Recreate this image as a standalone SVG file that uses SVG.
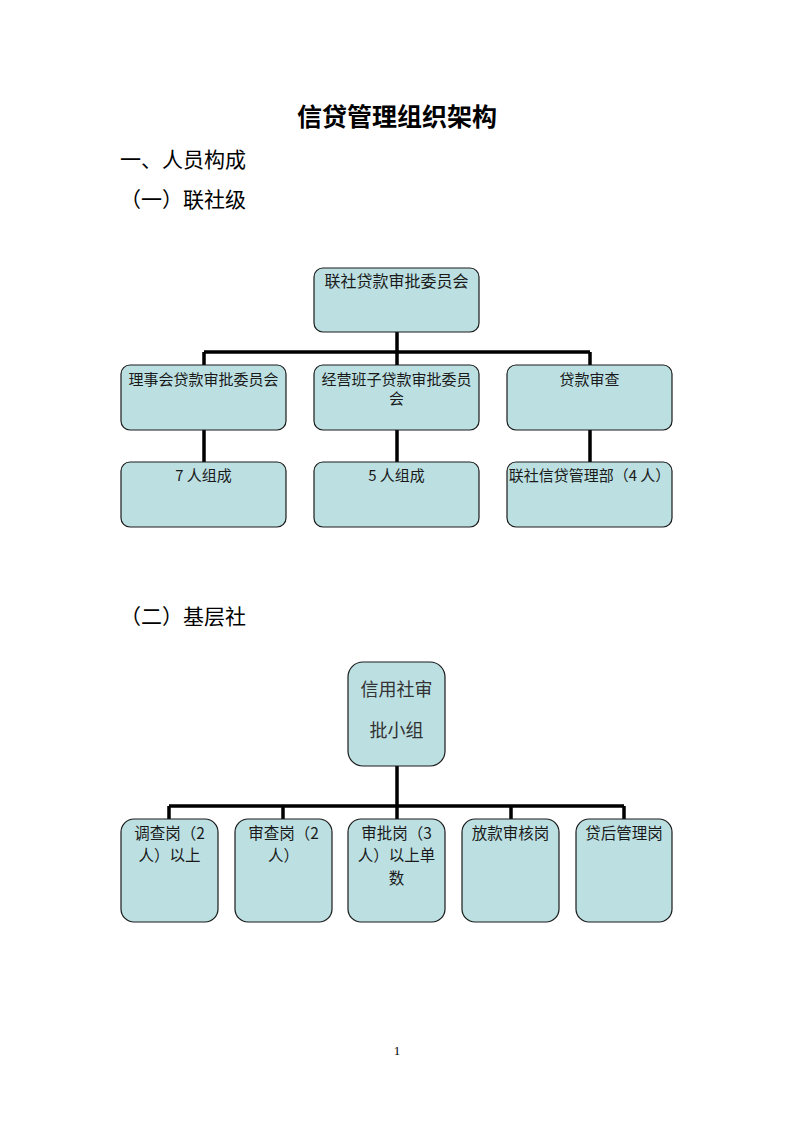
<svg xmlns="http://www.w3.org/2000/svg" width="794" height="1123" viewBox="0 0 794 1123">
<style>
.bg{fill:#ffffff}
.box{fill:#BCE0E2;stroke:#1a1a1a;stroke-width:1.2}
.t{font-family:"Noto Sans CJK SC","Liberation Sans",sans-serif;font-size:15px;fill:#1a1a1a;text-anchor:middle}
.t16{font-family:"Noto Sans CJK SC","Liberation Sans",sans-serif;font-size:16px;fill:#1a1a1a;text-anchor:middle}
.b{font-family:"Noto Sans CJK SC","Liberation Sans",sans-serif;font-size:15.5px;fill:#1a1a1a;text-anchor:middle}
.big{font-family:"Noto Sans CJK SC","Liberation Sans",sans-serif;font-size:18px;fill:#333;text-anchor:middle}
.h{font-family:"Noto Sans CJK SC","Liberation Serif",serif;font-size:21px;fill:#000}
.title{font-family:"Noto Sans CJK SC","Liberation Serif",serif;font-size:25px;font-weight:bold;fill:#000;text-anchor:middle}
.ln{stroke:#000;stroke-width:3.5;fill:none}
</style>
<rect class="bg" x="0" y="0" width="794" height="1123"/>
<text class="title" x="397" y="126">信贷管理组织架构</text>
<text class="h" x="120" y="167">一、人员构成</text>
<text class="h" x="120" y="207">（一）联社级</text>
<text class="h" x="120" y="624">（二）基层社</text>
<text x="397" y="1055" style="font-family:'Liberation Serif',serif;font-size:13px;text-anchor:middle">1</text>

<g id="connectors">
<path class="ln" d="M397 332 V352 M204 352 H590 M204 352 V365 M397 352 V365 M590 352 V365"/>
<path class="ln" d="M204 430 V462 M397 430 V462 M590 430 V462"/>
<path class="ln" d="M397 766 V806 M169 806 H624 M169 806 V819 M283 806 V819 M397 806 V819 M511 806 V819 M624 806 V819"/>
</g>

<g id="n-top"><rect class="box" x="314" y="268" width="165" height="64" rx="9"/><text class="t16" x="396.5" y="287">联社贷款审批委员会</text></g>
<g id="n-lishi"><rect class="box" x="121" y="365" width="165" height="65" rx="9"/><text class="t" x="203.5" y="385">理事会贷款审批委员会</text></g>
<g id="n-jingying"><rect class="box" x="314" y="365" width="165" height="65" rx="9"/><text class="t" x="396.5" y="385">经营班子贷款审批委员</text><text class="t" x="396.5" y="404">会</text></g>
<g id="n-shencha"><rect class="box" x="507" y="365" width="165" height="65" rx="9"/><text class="t" x="589.5" y="385">贷款审查</text></g>
<g id="n-7"><rect class="box" x="121" y="462" width="165" height="65" rx="9"/><text class="t" x="203.5" y="481">7 人组成</text></g>
<g id="n-5"><rect class="box" x="314" y="462" width="165" height="65" rx="9"/><text class="t" x="396.5" y="481">5 人组成</text></g>
<g id="n-4"><rect class="box" x="507" y="462" width="165" height="65" rx="9"/><text class="t" x="589.5" y="481">联社信贷管理部（4 人）</text></g>

<g id="n-xys"><rect class="box" x="348" y="662" width="97" height="104" rx="15"/><text class="big" x="396.5" y="696">信用社审</text><text class="big" x="396.5" y="737">批小组</text></g>
<g id="n-diaocha"><rect class="box" x="121" y="819" width="97" height="103" rx="13"/><text class="b" x="169.5" y="839">调查岗（2</text><text class="b" x="169.5" y="861">人）以上</text></g>
<g id="n-shenchag"><rect class="box" x="235" y="819" width="97" height="103" rx="13"/><text class="b" x="283.5" y="839">审查岗（2</text><text class="b" x="283.5" y="861">人）</text></g>
<g id="n-shenpi"><rect class="box" x="348" y="819" width="97" height="103" rx="13"/><text class="b" x="396.5" y="839">审批岗（3</text><text class="b" x="396.5" y="861">人）以上单</text><text class="b" x="396.5" y="884">数</text></g>
<g id="n-fangkuan"><rect class="box" x="462" y="819" width="97" height="103" rx="13"/><text class="b" x="510.5" y="839">放款审核岗</text></g>
<g id="n-daihou"><rect class="box" x="576" y="819" width="96" height="103" rx="13"/><text class="b" x="624" y="839">贷后管理岗</text></g>
</svg>
